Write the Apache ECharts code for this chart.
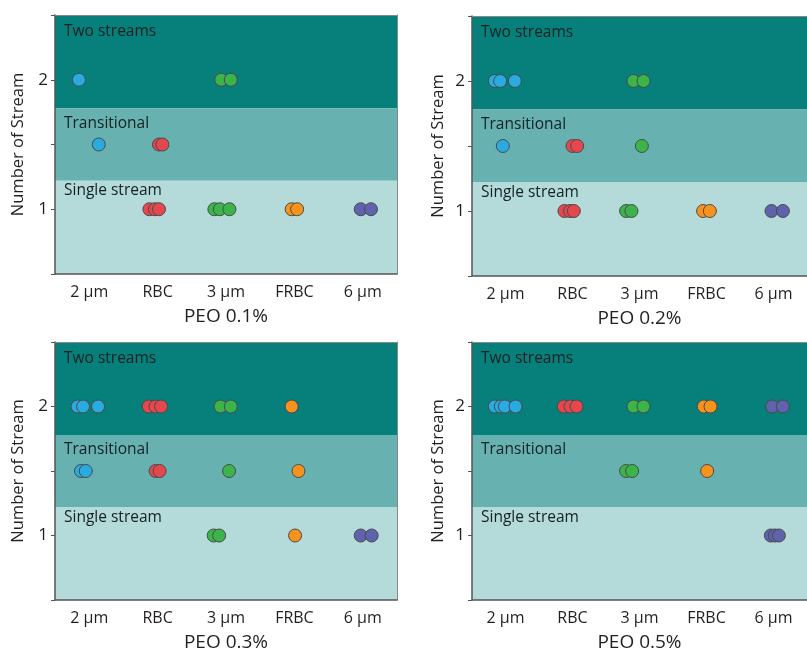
<!DOCTYPE html>
<html>
<head>
<meta charset="utf-8">
<script src="https://cdn.jsdelivr.net/npm/echarts@6/dist/echarts.min.js"></script>
<style>
  html, body { margin: 0; padding: 0; background: #fff; }
  #chart { width: 807px; height: 653px; }
</style>
</head>
<body>
<div id="chart"></div>
<script>
// categories along x, one colour each
const categories = ['2 µm', 'RBC', '3 µm', 'FRBC', '6 µm'];
const panelTitles = ['PEO 0.1%', 'PEO 0.2%', 'PEO 0.3%', 'PEO 0.5%'];
const yTickLabels = { 1: '1', 2: '2' };

// each point: [category index, horizontal jitter, number of stream]
const peo01 = [
  [0, -0.15, 2], [2, -0.07, 2], [2, 0.07, 2],
  [0, 0.14, 1.5], [1, 0.02, 1.5], [1, 0.07, 1.5],
  [1, -0.12, 1], [1, -0.04, 1], [1, 0.02, 1],
  [2, -0.17, 1], [2, -0.09, 1], [2, 0.05, 1],
  [3, -0.04, 1], [3, 0.04, 1],
  [4, -0.03, 1], [4, 0.12, 1]
];
const peo02 = [
  [0, -0.16, 2], [0, -0.08, 2], [0, 0.14, 2], [2, -0.09, 2], [2, 0.06, 2],
  [0, -0.04, 1.5], [1, 0.0, 1.5], [1, 0.07, 1.5], [2, 0.035, 1.5],
  [1, -0.12, 1], [1, -0.035, 1], [1, 0.02, 1],
  [2, -0.2, 1], [2, -0.12, 1],
  [3, -0.05, 1], [3, 0.05, 1],
  [4, -0.03, 1], [4, 0.14, 1]
];
const peo03 = [
  [0, -0.17, 2], [0, -0.09, 2], [0, 0.13, 2],
  [1, -0.13, 2], [1, -0.03, 2], [1, 0.05, 2],
  [2, -0.08, 2], [2, 0.07, 2], [3, -0.04, 2],
  [0, -0.12, 1.5], [0, -0.05, 1.5], [1, -0.03, 1.5], [1, 0.03, 1.5],
  [2, 0.045, 1.5], [3, 0.06, 1.5],
  [2, -0.18, 1], [2, -0.1, 1], [3, 0.01, 1],
  [4, -0.03, 1], [4, 0.13, 1]
];
const peo05 = [
  [0, -0.16, 2], [0, -0.07, 2], [0, -0.01, 2], [0, 0.15, 2],
  [1, -0.13, 2], [1, -0.03, 2], [1, 0.06, 2],
  [2, -0.09, 2], [2, 0.06, 2],
  [3, -0.04, 2], [3, 0.06, 2],
  [4, -0.02, 2], [4, 0.14, 2],
  [2, -0.2, 1.5], [2, -0.11, 1.5], [3, 0.01, 1.5],
  [4, -0.04, 1], [4, 0.02, 1], [4, 0.08, 1]
];
const panels = [peo01, peo02, peo03, peo05];

// regime bands: [from, to, label]
const bands = [
  [1.78, 2.5, 'Two streams'],
  [1.22, 1.78, 'Transitional'],
  [0.5, 1.22, 'Single stream']
];

const pointColors = ['#29aae1', '#e5474f', '#3bb44a', '#f7931d', '#5f63ad'];
const bandColors = ['#077f7b', '#68b1b1', '#b4dbda'];
const bandLabelOffsets = [[9, 9], [9, 7], [9, 2]];
const font = '"Open Sans", "Noto Sans", sans-serif';
const ink = '#231f20';

const grids = [
  { left: 55, top: 15, width: 342, height: 259 },
  { left: 472, top: 16, width: 342, height: 260 },
  { left: 55, top: 342, width: 342, height: 259 },
  { left: 472, top: 342, width: 342, height: 260 }
];

const chart = echarts.init(document.getElementById('chart'));

const xAxis = [];
const yAxis = [];
const series = [];

panels.forEach((points, p) => {
  // visible category axis (labels + ticks)
  xAxis.push({
    type: 'category',
    gridIndex: p,
    data: categories,
    boundaryGap: true,
    z: 10,
    axisLine: { onZero: false, lineStyle: { color: '#555', width: 1.5 } },
    axisTick: { alignWithLabel: true, length: 4, lineStyle: { color: '#555' } },
    axisLabel: { color: ink, fontFamily: font, fontSize: 16, margin: 10 },
    name: panelTitles[p],
    nameLocation: 'middle',
    nameGap: 33,
    nameTextStyle: { color: ink, fontFamily: font, fontSize: 19 }
  });
  // hidden value axis for the jittered points
  xAxis.push({
    type: 'value',
    gridIndex: p,
    min: -0.5,
    max: 4.5,
    show: false
  });
  // thin top frame
  xAxis.push({
    type: 'category',
    gridIndex: p,
    position: 'top',
    data: categories,
    z: 10,
    axisLine: { onZero: false, lineStyle: { color: '#888', width: 1 } },
    axisTick: { show: false },
    axisLabel: { show: false }
  });

  yAxis.push({
    type: 'value',
    gridIndex: p,
    min: 0.5,
    max: 2.5,
    interval: 0.5,
    z: 10,
    splitLine: { show: false },
    axisLine: { show: true, onZero: false, lineStyle: { color: '#555', width: 1.5 } },
    axisTick: { show: true, length: 4, lineStyle: { color: '#555' } },
    axisLabel: {
      color: ink, fontFamily: font, fontSize: 17, margin: 7,
      formatter: (v) => yTickLabels[v] || ''
    },
    name: 'Number of Stream',
    nameLocation: 'middle',
    nameGap: p % 2 === 0 ? 28 : 25,
    nameTextStyle: { color: ink, fontFamily: font, fontSize: 16.5 }
  });
  yAxis.push({
    type: 'value',
    gridIndex: p,
    position: 'right',
    min: 0.5,
    max: 2.5,
    z: 10,
    splitLine: { show: false },
    axisLine: { show: true, onZero: false, lineStyle: { color: '#888', width: 1 } },
    axisTick: { show: false },
    axisLabel: { show: false }
  });

  // background bands
  series.push({
    type: 'scatter',
    xAxisIndex: p * 3 + 1,
    yAxisIndex: p * 2,
    data: [],
    z: 1,
    silent: true,
    markArea: {
      silent: true,
      data: bands.map((b, i) => [
        {
          yAxis: b[0],
          itemStyle: { color: bandColors[i] },
          label: {
            show: true,
            position: 'insideTopLeft',
            distance: 0,
            offset: bandLabelOffsets[i],
            formatter: b[2],
            color: '#142121',
            fontFamily: font,
            fontSize: 15.5
          }
        },
        { yAxis: b[1] }
      ])
    }
  });

  categories.forEach((cat, c) => {
    series.push({
      name: cat,
      type: 'scatter',
      xAxisIndex: p * 3 + 1,
      yAxisIndex: p * 2,
      z: 3,
      symbolSize: 13,
      itemStyle: {
        color: pointColors[c],
        borderColor: '#4a4a4a',
        borderWidth: 1,
        opacity: 1
      },
      data: points.filter((d) => d[0] === c).map((d) => [d[0] + d[1], d[2]])
    });
  });
});

chart.setOption({
  animation: false,
  backgroundColor: '#ffffff',
  grid: grids,
  xAxis: xAxis,
  yAxis: yAxis,
  series: series
});
</script>
</body>
</html>
